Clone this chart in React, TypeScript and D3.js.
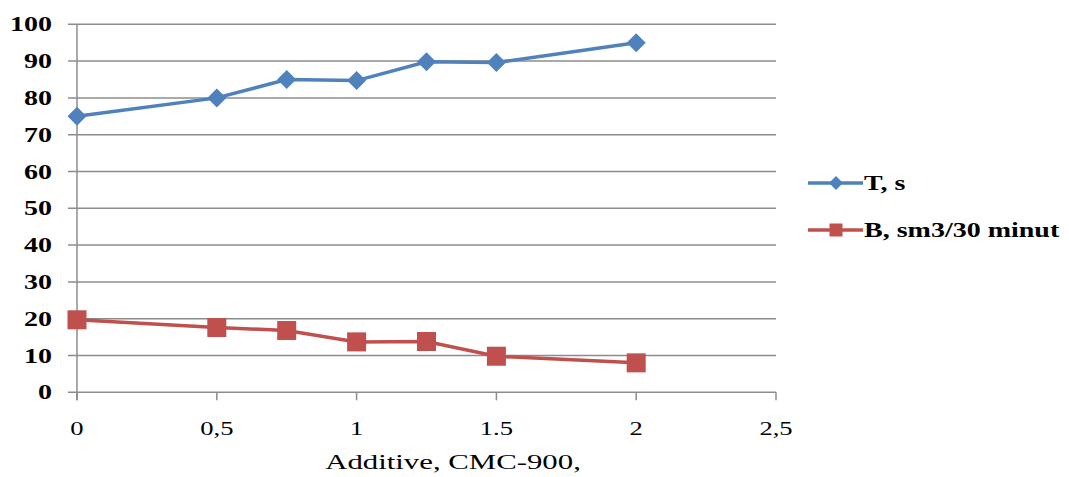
import React from "react";
import * as d3 from "d3";

const xValues = [0, 0.5, 0.75, 1, 1.25, 1.5, 2];
const seriesT = [75, 80, 85, 84.7, 89.8, 89.6, 95];
const seriesB = [19.7, 17.6, 16.8, 13.7, 13.8, 9.8, 8];
const xTicks = [0, 0.5, 1, 1.5, 2, 2.5];
const xTickLabels = ["0", "0,5", "1", "1.5", "2", "2,5"];
const yTicks = [0, 10, 20, 30, 40, 50, 60, 70, 80, 90, 100];
const seriesNames = ["T, s", "B, sm3/30 minut"];
const xTitle = "Additive, CMC-900,";

const W = 1069;
const H = 477;
const SX = 1.4;
const blue = "#4F81BD";
const red = "#C0504D";
const grid = "#8c8c8c";
const font = "Liberation Serif, Tinos, Times New Roman, serif";

export default function App() {
  const x = d3.scaleLinear().domain([0, 2.5]).range([77, 776]);
  const y = d3.scaleLinear().domain([0, 100]).range([392.3, 24.3]);
  const line = d3
    .line<number>()
    .x((_, i) => x(xValues[i]))
    .y((d) => y(d));

  const stretched = (
    px: number,
    py: number,
    txt: string,
    anchor: string,
    size: number,
    bold: boolean,
    key?: string | number
  ) => (
    <text
      key={key}
      transform={`translate(${px},${py}) scale(${SX},1)`}
      textAnchor={anchor}
      style={{ fontFamily: font, fontSize: size + "px", fontWeight: bold ? 700 : 400 }}
      fill="#000"
    >
      {txt}
    </text>
  );

  const diamond = (cx: number, cy: number, r: number, key: number | string) => (
    <path
      key={key}
      d={`M${cx},${cy - r}L${cx + r},${cy}L${cx},${cy + r}L${cx - r},${cy}Z`}
      fill={blue}
    />
  );
  const square = (cx: number, cy: number, s: number, key: number | string) => (
    <rect key={key} x={cx - s / 2} y={cy - s / 2} width={s} height={s} fill={red} />
  );

  return (
    <svg
      width={W}
      height={H}
      style={{ position: "absolute", left: 0, top: 0, background: "#fff" }}
    >
      <rect x={0} y={0} width={W} height={H} fill="#fff" />
      {yTicks.map((t) => (
        <line
          key={"g" + t}
          x1={68}
          x2={776}
          y1={y(t)}
          y2={y(t)}
          stroke={grid}
          strokeWidth={1.5}
        />
      ))}
      <line x1={x(0)} x2={x(0)} y1={y(100)} y2={y(0) + 8} stroke={grid} strokeWidth={1.5} />
      {xTicks.map((t) => (
        <line
          key={"xt" + t}
          x1={x(t)}
          x2={x(t)}
          y1={y(0)}
          y2={y(0) + 8}
          stroke={grid}
          strokeWidth={1.5}
        />
      ))}
      {yTicks.map((t) => stretched(52, y(t) + 7, String(t), "end", 20, true, "yl" + t))}
      {xTicks.map((t, i) => stretched(x(t), 435, xTickLabels[i], "middle", 19, false, "xl" + t))}
      {stretched(453, 469, xTitle, "middle", 22, false, "title")}

      <path d={line(seriesT) || ""} fill="none" stroke={blue} strokeWidth={3.5} />
      {seriesT.map((v, i) => diamond(x(xValues[i]), y(v), 9.5, "d" + i))}
      <path d={line(seriesB) || ""} fill="none" stroke={red} strokeWidth={3.5} />
      {seriesB.map((v, i) => square(x(xValues[i]), y(v), 19, "s" + i))}

      <line x1={808} x2={863} y1={183} y2={183} stroke={blue} strokeWidth={3.5} />
      {diamond(836, 183, 7, "ld")}
      {stretched(864, 190, seriesNames[0], "start", 20, true, "ln0")}
      <line x1={808} x2={863} y1={230} y2={230} stroke={red} strokeWidth={3.5} />
      {square(836, 230, 13, "ls")}
      {stretched(864, 237, seriesNames[1], "start", 20, true, "ln1")}
    </svg>
  );
}
